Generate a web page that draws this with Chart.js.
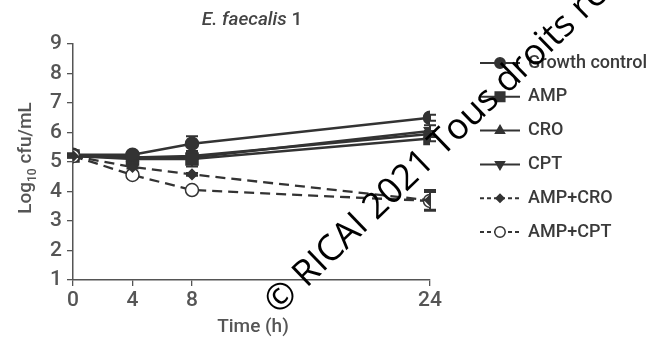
<!DOCTYPE html>
<html>
<head>
<meta charset="utf-8">
<script src="https://cdn.jsdelivr.net/npm/chart.js@4/dist/chart.umd.min.js"></script>
<style>
  html, body { margin: 0; padding: 0; background: #fff; }
  #wrap { width: 650px; height: 338px; }
</style>
</head>
<body>
<div id="wrap"><canvas id="c" width="650" height="338"></canvas></div>
<script>
// time points (h) and tick labels
const times = [0, 4, 8, 24];
const xTicks = [0, 4, 8, 24];
const yTicks = [1, 2, 3, 4, 5, 6, 7, 8, 9];

// log10 cfu/mL per condition
const seriesNames = ['Growth control', 'AMP', 'CRO', 'CPT', 'AMP+CRO', 'AMP+CPT'];
const growthControl = [5.25, 5.25, 5.62, 6.5];
const amp = [5.2, 5.1, 5.1, 5.8];
const cro = [5.2, 5.15, 5.2, 5.95];
const cpt = [5.2, 5.15, 5.15, 6.05];
const ampCro = [5.2, 4.83, 4.58, 3.7];
const ampCpt = [5.2, 4.56, 4.05, 3.68];

// error bars (+/-)
const growthErr = [0.05, 0.1, 0.25, 0.1];
const ampErr = [0.05, 0.1, 0.25, 0.1];
const croErr = [0.05, 0.05, 0.1, 0.1];
const cptErr = [0.05, 0.05, 0.1, 0.2];
const ampCroErr = [0, 0.05, 0.05, 0.35];
const ampCptErr = [0, 0.05, 0.05, 0.3];

const INK = '#333';
const TEXT = '#555';
const FONT = 'Roboto, "Open Sans", sans-serif';

const pts = arr => arr.map((v, i) => ({ x: times[i], y: v }));

function ds(label, data, err, style, dashed, radius, fill) {
  return {
    label, data: pts(data), err,
    borderColor: INK, backgroundColor: fill || INK,
    borderWidth: dashed ? 2.3 : 2.5, borderDash: dashed ? [10, 6] : [],
    pointStyle: style, pointRadius: radius, pointHoverRadius: radius,
    pointBackgroundColor: fill || INK, pointBorderColor: INK, pointBorderWidth: 1.5,
    tension: 0
  };
}

const datasets = [
  ds(seriesNames[4], ampCro, ampCroErr, 'rectRot', true, 5),
  ds(seriesNames[5], ampCpt, ampCptErr, 'circle', true, 6.5, '#fff'),
  ds(seriesNames[0], growthControl, growthErr, 'circle', false, 6.5),
  ds(seriesNames[1], amp, ampErr, 'rect', false, 8.5),
  ds(seriesNames[2], cro, croErr, 'triangle', false, 6.5),
  ds(seriesNames[3], cpt, cptErr, 'triangle', false, 6.5)
];
datasets[5].pointRotation = 180;
const legendOrder = [2, 3, 4, 5, 0, 1];

const errorBars = {
  id: 'errorBars',
  beforeDatasetsDraw(chart) {
    const { ctx, scales: { x, y } } = chart;
    ctx.save();
    ctx.strokeStyle = INK;
    ctx.lineWidth = 2;
    chart.data.datasets.forEach(d => {
      d.data.forEach((p, i) => {
        const e = d.err[i];
        if (!e) return;
        const px = x.getPixelForValue(p.x);
        const y1 = y.getPixelForValue(p.y + e), y2 = y.getPixelForValue(p.y - e);
        ctx.beginPath();
        ctx.moveTo(px, y1); ctx.lineTo(px, y2);
        ctx.moveTo(px - 6, y1); ctx.lineTo(px + 6, y1);
        ctx.moveTo(px - 6, y2); ctx.lineTo(px + 6, y2);
        ctx.stroke();
      });
    });
    ctx.restore();
  }
};

const decorations = {
  id: 'decorations',
  afterDraw(chart) {
    const ctx = chart.ctx;
    ctx.save();
    // title: italic species name + plain number
    ctx.fillStyle = '#444';
    ctx.textBaseline = 'middle';
    ctx.textAlign = 'left';
    const t1 = 'E. faecalis', t2 = ' 1';
    ctx.font = 'italic 500 19px ' + FONT;
    const w1 = ctx.measureText(t1).width;
    ctx.font = '500 19px ' + FONT;
    const w2 = ctx.measureText(t2).width;
    const tx = 252 - (w1 + w2) / 2;
    ctx.font = 'italic 500 19px ' + FONT;
    ctx.fillText(t1, tx, 20);
    ctx.font = '500 19px ' + FONT;
    ctx.fillText(t2, tx + w1, 20);

    // x title
    ctx.fillStyle = TEXT;
    ctx.textAlign = 'center';
    ctx.font = '500 19px ' + FONT;
    ctx.fillText('Time (h)', 253, 327);

    // y title with subscript
    ctx.save();
    ctx.translate(26, 158);
    ctx.rotate(-Math.PI / 2);
    ctx.textAlign = 'left';
    ctx.font = '500 19px ' + FONT;
    const a = 'Log', c = ' cfu/mL';
    const wa = ctx.measureText(a).width, wc = ctx.measureText(c).width;
    ctx.font = '500 12px ' + FONT;
    const wb = ctx.measureText('10').width;
    const sx = -(wa + wb + wc) / 2;
    ctx.font = '500 19px ' + FONT;
    ctx.fillText(a, sx, 0);
    ctx.font = '500 12px ' + FONT;
    ctx.fillText('10', sx + wa, 7);
    ctx.font = '500 19px ' + FONT;
    ctx.fillText(c, sx + wa + wb, 0);
    ctx.restore();

    // legend: line sample + marker + label
    legendOrder.forEach((di, row) => {
      const d = chart.data.datasets[di];
      const ly = 63 + row * 33.8;
      ctx.save();
      ctx.strokeStyle = INK;
      ctx.lineWidth = 2;
      ctx.setLineDash(d.borderDash.length ? [4, 3] : []);
      ctx.beginPath();
      ctx.moveTo(480, ly); ctx.lineTo(520, ly);
      ctx.stroke();
      ctx.setLineDash([]);
      ctx.fillStyle = d.pointBackgroundColor;
      ctx.strokeStyle = INK;
      ctx.lineWidth = 1.5;
      Chart.helpers.drawPoint(ctx, {
        pointStyle: d.pointStyle, radius: d.pointRadius * 0.8,
        rotation: d.pointRotation || 0, borderWidth: 1.5
      }, 500, ly);
      ctx.restore();
      ctx.fillStyle = '#3a3a3a';
      ctx.textAlign = 'left';
      ctx.font = '500 18px ' + FONT;
      ctx.fillText(d.label, 528, ly);
    });

    // watermark
    ctx.save();
    ctx.translate(282, 298);
    ctx.rotate(-44 * Math.PI / 180);
    ctx.fillStyle = '#000';
    ctx.font = '36px "Open Sans", sans-serif';
    ctx.textAlign = 'left';
    ctx.textBaseline = 'middle';
    const cw = ctx.measureText('©').width;
    ctx.fillText('© RICAI 2021 Tous droits réservés', -cw / 2, 0);
    ctx.restore();

    ctx.restore();
  }
};

new Chart(document.getElementById('c'), {
  type: 'line',
  data: { datasets },
  options: {
    responsive: false,
    animation: false,
    events: [],
    layout: { padding: { top: 44, right: 220, bottom: 0, left: 0 } },
    plugins: { legend: { display: false }, title: { display: false }, tooltip: { enabled: false } },
    scales: {
      x: {
        type: 'linear', min: 0, max: 24,
        afterBuildTicks: s => { s.ticks = xTicks.map(v => ({ value: v })); },
        afterFit: s => { s.height = 58; },
        grid: { drawOnChartArea: false, drawTicks: true, tickLength: 6, color: TEXT, lineWidth: 1.3 },
        border: { color: TEXT, width: 1.5 },
        ticks: { color: TEXT, font: { family: FONT, size: 21, weight: '500' }, padding: 2, maxRotation: 0 }
      },
      y: {
        type: 'linear', min: 1, max: 9,
        afterBuildTicks: s => { s.ticks = yTicks.map(v => ({ value: v })); },
        afterFit: s => { s.width = 73; },
        grid: { drawOnChartArea: false, drawTicks: true, tickLength: 6, color: TEXT, lineWidth: 1.3 },
        border: { color: TEXT, width: 1.5 },
        ticks: { color: TEXT, font: { family: FONT, size: 21, weight: '500' }, padding: 5 }
      }
    }
  },
  plugins: [errorBars, decorations]
});
</script>
</body>
</html>
